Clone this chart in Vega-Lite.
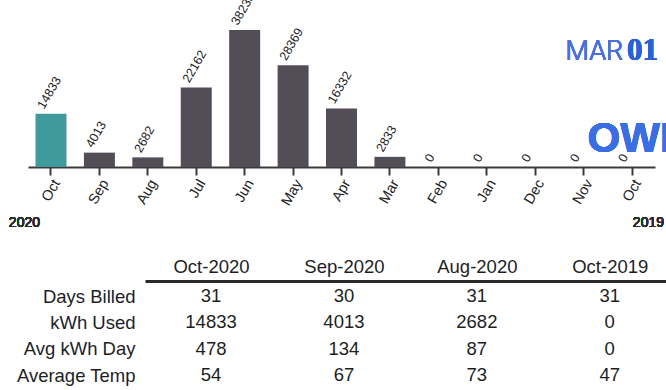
{
  "$schema": "https://vega.github.io/schema/vega-lite/v6.json",
  "width": 666,
  "height": 390,
  "autosize": {"type": "none"},
  "padding": 0,
  "background": "#ffffff",
  "config": {"view": {"stroke": null}, "font": "Liberation Sans", "text": {"font": "Liberation Sans"}},
  "datasets": {
    "bars": [
      {"month": "Oct 2020", "kwh": 14833, "period": "current"},
      {"month": "Sep 2020", "kwh": 4013, "period": "past"},
      {"month": "Aug 2020", "kwh": 2682, "period": "past"},
      {"month": "Jul 2020", "kwh": 22162, "period": "past"},
      {"month": "Jun 2020", "kwh": 38233, "period": "past"},
      {"month": "May 2020", "kwh": 28369, "period": "past"},
      {"month": "Apr 2020", "kwh": 16332, "period": "past"},
      {"month": "Mar 2020", "kwh": 2833, "period": "past"},
      {"month": "Feb 2020", "kwh": 0, "period": "past"},
      {"month": "Jan 2020", "kwh": 0, "period": "past"},
      {"month": "Dec 2019", "kwh": 0, "period": "past"},
      {"month": "Nov 2019", "kwh": 0, "period": "past"},
      {"month": "Oct 2019", "kwh": 0, "period": "past"}
    ],
    "table": [
      {"row": "Days Billed", "col": "Oct-2020", "value": "31"},
      {"row": "Days Billed", "col": "Sep-2020", "value": "30"},
      {"row": "Days Billed", "col": "Aug-2020", "value": "31"},
      {"row": "Days Billed", "col": "Oct-2019", "value": "31"},
      {"row": "kWh Used", "col": "Oct-2020", "value": "14833"},
      {"row": "kWh Used", "col": "Sep-2020", "value": "4013"},
      {"row": "kWh Used", "col": "Aug-2020", "value": "2682"},
      {"row": "kWh Used", "col": "Oct-2019", "value": "0"},
      {"row": "Avg kWh Day", "col": "Oct-2020", "value": "478"},
      {"row": "Avg kWh Day", "col": "Sep-2020", "value": "134"},
      {"row": "Avg kWh Day", "col": "Aug-2020", "value": "87"},
      {"row": "Avg kWh Day", "col": "Oct-2019", "value": "0"},
      {"row": "Average Temp", "col": "Oct-2020", "value": "54"},
      {"row": "Average Temp", "col": "Sep-2020", "value": "67"},
      {"row": "Average Temp", "col": "Aug-2020", "value": "73"},
      {"row": "Average Temp", "col": "Oct-2019", "value": "47"}
    ]
  },
  "layer": [
    {
      "data": {"name": "bars"},
      "encoding": {
        "x": {
          "field": "month",
          "type": "nominal",
          "scale": {
            "domain": ["Oct 2020", "Sep 2020", "Aug 2020", "Jul 2020", "Jun 2020", "May 2020", "Apr 2020", "Mar 2020", "Feb 2020", "Jan 2020", "Dec 2019", "Nov 2019", "Oct 2019"],
            "range": [28, 655],
            "paddingInner": 0.36,
            "paddingOuter": 0.155
          },
          "axis": {
            "title": null,
            "offset": -223,
            "grid": false,
            "domainColor": "#3a3a3a",
            "domainWidth": 2,
            "tickColor": "#3a3a3a",
            "tickWidth": 2,
            "tickSize": 8,
            "labelAngle": -60,
            "labelAlign": "right",
            "labelBaseline": "top",
            "labelFontSize": 14.5,
            "labelColor": "#222222",
            "labelPadding": 2,
            "labelExpr": "slice(datum.label, 0, 3)"
          }
        },
        "y": {
          "field": "kwh",
          "type": "quantitative",
          "scale": {"domain": [0, 38233], "range": [167, 30], "nice": false},
          "axis": null
        }
      },
      "layer": [
        {
          "mark": {"type": "bar"},
          "encoding": {
            "color": {
              "field": "period",
              "type": "nominal",
              "scale": {"domain": ["current", "past"], "range": ["#3f9a9d", "#534d57"]},
              "legend": null
            }
          }
        },
        {
          "mark": {"type": "text", "angle": 300, "align": "left", "baseline": "bottom", "dy": -5, "fontSize": 12.5, "color": "#222222"},
          "encoding": {"text": {"field": "kwh", "type": "quantitative", "format": "d"}}
        },
        {
          "mark": {"type": "text", "text": "2020", "align": "right", "baseline": "middle", "dx": -11, "dy": 56, "fontSize": 14, "color": "#2a2a2a"},
          "encoding": {"x": {"datum": "Oct 2020"}, "y": {"datum": 0}}
        },
        {
          "mark": {"type": "text", "text": "2019", "align": "right", "baseline": "middle", "dx": 32, "dy": 56, "fontSize": 14, "color": "#2a2a2a"},
          "encoding": {"x": {"datum": "Oct 2019"}, "y": {"datum": 0}}
        },
        {
          "mark": {"type": "text", "text": "MAR", "align": "left", "baseline": "alphabetic", "dx": -18, "font": "Roboto", "fontWeight": 300, "fontSize": 27, "color": "#4a70dc"},
          "encoding": {"x": {"datum": "Nov 2019"}, "y": {"datum": 29860}}
        },
        {
          "mark": {"type": "text", "text": "01", "align": "left", "baseline": "alphabetic", "dx": -5, "font": "Liberation Serif", "fontWeight": "bold", "fontSize": 31, "color": "#2f5fd6"},
          "encoding": {"x": {"datum": "Oct 2019"}, "y": {"datum": 29860}}
        },
        {
          "mark": {"type": "text", "text": "OWE", "align": "left", "baseline": "alphabetic", "dx": 4, "font": "Liberation Sans", "fontWeight": "bold", "fontSize": 42, "color": "#3a6fe3"},
          "encoding": {"x": {"datum": "Nov 2019"}, "y": {"datum": 4300}}
        }
      ]
    },
    {
      "data": {"name": "table"},
      "mark": {"type": "text", "fontSize": 18.5, "color": "#1e1e1e", "baseline": "middle", "align": "center"},
      "encoding": {
        "x": {
          "field": "col",
          "type": "nominal",
          "scale": {"type": "point", "domain": ["Oct-2020", "Sep-2020", "Aug-2020", "Oct-2019"], "range": [145, 666], "padding": 0.46, "align": 0.54},
          "axis": {"orient": "top", "offset": -281, "title": null, "ticks": false, "tickSize": 0, "grid": false, "domainWidth": 3, "domainColor": "#2a2a2a", "labelFontSize": 18.5, "labelColor": "#1e1e1e", "labelPadding": 5, "labelAngle": 0}
        },
        "y": {
          "field": "row",
          "type": "nominal",
          "scale": {"type": "point", "domain": ["Days Billed", "kWh Used", "Avg kWh Day", "Average Temp"], "range": [296, 375], "padding": 0},
          "axis": {"orient": "left", "offset": -135, "title": null, "domain": false, "ticks": false, "tickSize": 0, "grid": false, "labelPadding": 0, "labelFontSize": 18.5, "labelColor": "#1e1e1e"}
        },
        "text": {"field": "value", "type": "nominal"}
      }
    }
  ],
  "resolve": {"scale": {"x": "independent", "y": "independent", "color": "independent"}, "axis": {"x": "independent", "y": "independent"}}
}
